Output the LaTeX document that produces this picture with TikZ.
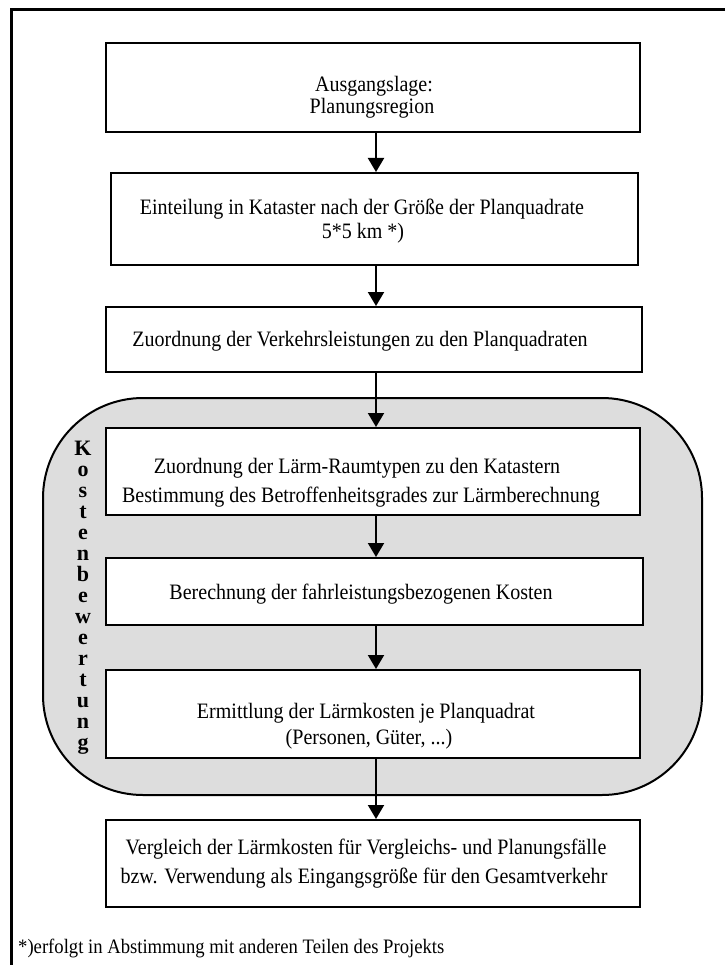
\documentclass[tikz,border=0pt]{standalone}
\usepackage{fontspec}
\setmainfont[FakeStretch=0.91]{Liberation Serif}
\newfontfamily\lblfont{Liberation Serif}
\usetikzlibrary{arrows.meta}
\definecolor{regiongray}{RGB}{221,221,221}
\begin{document}
\begin{tikzpicture}[x=1pt,y=-1pt,
  box/.style={draw, line width=2pt, fill=white, inner sep=0pt},
  txt/.style={font=\fontsize{22}{24}\selectfont, inner sep=0pt, anchor=base},
  vl/.style={font=\lblfont\fontsize{22}{24}\selectfont\bfseries, inner sep=0pt, anchor=base},
  arr/.style={line width=2pt, -{Triangle[width=16pt,length=14pt]}},
]
\useasboundingbox (0,0) rectangle (725,965);
\fill[white] (0,0) rectangle (725,965);
\draw[line width=3pt] (725,10) -- (11,10) -- (11,965);

% grey region
\node[draw, line width=2pt, fill=regiongray, rounded corners=100pt, inner sep=0pt,
      minimum width=659pt, minimum height=397pt] (region) at (372.5,596.5) {};

% boxes
\node[box, minimum width=534pt, minimum height=89pt] (b1) at (373,87.5) {};
\node[box, minimum width=527pt, minimum height=92pt] (b2) at (374.5,219) {};
\node[box, minimum width=536pt, minimum height=65pt] (b3) at (374,339.5) {};
\node[box, minimum width=534pt, minimum height=87pt] (b4) at (373,471.5) {};
\node[box, minimum width=537pt, minimum height=67pt] (b5) at (374.5,591.5) {};
\node[box, minimum width=534pt, minimum height=88pt] (b6) at (373,714) {};
\node[box, minimum width=534pt, minimum height=87pt] (b7) at (373,863.5) {};

% texts
\node[txt] (t1a) at (374,92) {Ausgangslage:};
\node[txt] (t1b) at (372,114) {Planungsregion};
\node[txt] (t2a) at (362,215) {Einteilung in Kataster nach der Größe der Planquadrate};
\node[txt] (t2b) at (363,239) {5*5 km *)};
\node[txt] (t3) at (360,346) {Zuordnung der Verkehrsleistungen zu den Planquadraten};
\node[txt] (t4a) at (357,473) {Zuordnung der Lärm-Raumtypen zu den Katastern};
\node[txt] (t4b) at (361,502) {Bestimmung des Betroffenheitsgrades zur Lärmberechnung};
\node[txt] (t5) at (361,599) {Berechnung der fahrleistungsbezogenen Kosten};
\node[txt] (t6a) at (366,718) {Ermittlung der Lärmkosten je Planquadrat};
\node[txt] (t6b) at (369,744) {(Personen, Güter, ...)};
\node[txt] (t7a) at (366,854) {Vergleich der Lärmkosten für Vergleichs- und Planungsfälle};
\node[txt] (t7b) at (364,883) {bzw. Verwendung als Eingangsgröße für den Gesamtverkehr};

% vertical label
\foreach \ch [count=\i] in {K,o,s,t,e,n,b,e,w,e,r,t,u,n,g}
  \node[vl] (k\i) at (83,{455+21*(\i-1)}) {\ch};

% footnote
\node[font=\fontsize{20.5}{23}\selectfont, inner sep=0pt, anchor=base west] (fn) at (18,953)
  {*)erfolgt in Abstimmung mit anderen Teilen des Projekts};

% arrows
\coordinate (ax) at (376,0);
\draw[arr] (b1.south -| ax) -- (b2.north -| ax);
\draw[arr] (b2.south -| ax) -- (b3.north -| ax);
\draw[arr] (b3.south -| ax) -- (b4.north -| ax);
\draw[arr] (b4.south -| ax) -- (b5.north -| ax);
\draw[arr] (b5.south -| ax) -- (b6.north -| ax);
\draw[arr] (b6.south -| ax) -- (b7.north -| ax);
\end{tikzpicture}
\end{document}
